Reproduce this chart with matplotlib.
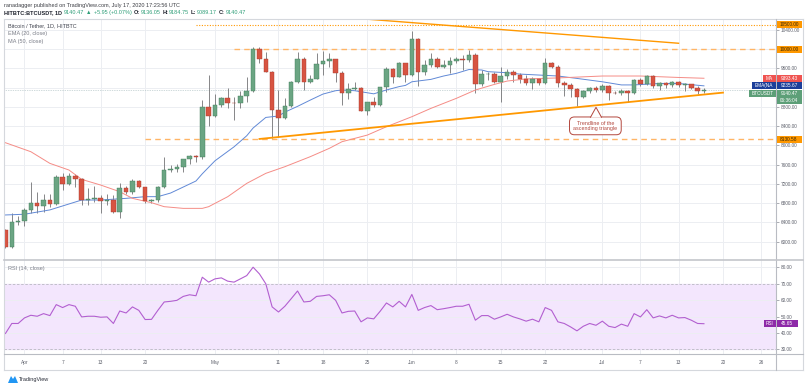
import matplotlib
matplotlib.use("Agg")
import matplotlib.pyplot as plt
import matplotlib.dates as mdates
from matplotlib.patches import Rectangle, Polygon
from matplotlib.lines import Line2D
from matplotlib.transforms import IdentityTransform
import numpy as np
import pandas as pd

plt.rcParams['font.family'] = ['Liberation Sans', 'DejaVu Sans']

# ---------------- data ----------------
start_date = "2020-03-29"
opens = [6240, 5895, 6400, 6430, 6660, 6800, 6740, 6865, 6775, 7340,
         7205, 7370, 7300, 6865, 6885, 6900, 6850, 6870, 6625, 7105,
         7040, 7250, 7130, 6845, 6865, 7140, 7480, 7500, 7550, 7710,
         7780, 7750, 8790, 8615, 8835, 8975, 8885, 8870, 9025, 9135,
         9995, 9790, 9530, 8735, 8560, 8815, 9315, 9790, 9315, 9385,
         9680, 9745, 9785, 9510, 9080, 9170, 9185, 8720, 8895, 8835,
         9205, 9580, 9425, 9700, 9460, 10200, 9515, 9670, 9790, 9620,
         9670, 9750, 9785, 9770, 9880, 9265, 9475, 9490, 9320, 9440,
         9515, 9460, 9375, 9300, 9370, 9285, 9700, 9620, 9285, 9250,
         9160, 9010, 9125, 9195, 9150, 9240, 9095, 9080, 9135, 9080,
         9355, 9265, 9440, 9230, 9300, 9250, 9310, 9250, 9270, 9195,
         9136.05]
highs = [6260, 6600, 6530, 6690, 7230, 7040, 7000, 6980, 7380, 7420,
         7420, 7405, 7315, 7105, 7160, 6970, 6990, 6970, 7210, 7160,
         7295, 7280, 7140, 6885, 7160, 7765, 7590, 7610, 7715, 7800,
         7800, 8940, 9460, 9065, 9010, 9195, 8995, 9135, 9410, 10050,
         10035, 9930, 9550, 9150, 8975, 9335, 9945, 9825, 9460, 9910,
         9960, 9910, 9790, 9550, 9285, 9320, 9215, 8905, 9010, 9215,
         9635, 9600, 9725, 9700, 10375, 10220, 9770, 9910, 9840, 9770,
         9840, 9840, 9875, 9980, 9910, 9565, 9530, 9530, 9635, 9580,
         9565, 9510, 9460, 9425, 9390, 9805, 9725, 9665, 9335, 9285,
         9185, 9150, 9215, 9230, 9275, 9250, 9135, 9160, 9150, 9370,
         9390, 9460, 9455, 9320, 9320, 9340, 9340, 9300, 9270, 9230,
         9184.75]
lows = [5875, 5870, 6345, 6325, 6590, 6600, 6620, 6725, 6755, 7070,
        7175, 7140, 6760, 6760, 6830, 6590, 6760, 6600, 6485, 7000,
        7000, 7105, 6810, 6795, 6830, 7105, 7455, 7440, 7455, 7610,
        7660, 7725, 8400, 8595, 8790, 8770, 8525, 8770, 8905, 9115,
        9715, 9515, 8145, 8180, 8545, 8790, 9285, 9150, 9285, 9370,
        9460, 9635, 9320, 8835, 8955, 9150, 8715, 8630, 8790, 8825,
        9115, 9285, 9410, 9320, 9440, 9230, 9460, 9635, 9600, 9600,
        9495, 9715, 9565, 9735, 9095, 9230, 9355, 9285, 8905, 9375,
        9320, 9285, 9250, 9160, 9250, 9270, 9600, 9215, 9025, 8995,
        8815, 8975, 9095, 9115, 9115, 8940, 9060, 9050, 8905, 9065,
        9240, 9250, 9185, 9150, 9185, 9215, 9215, 9125, 9160, 9065,
        9089.17]
closes = [5895, 6400, 6430, 6660, 6800, 6740, 6865, 6775, 7340, 7205,
          7370, 7300, 6865, 6885, 6900, 6850, 6870, 6625, 7105, 7040,
          7250, 7130, 6845, 6865, 7140, 7480, 7500, 7550, 7710, 7780,
          7750, 8790, 8615, 8835, 8975, 8885, 8870, 9025, 9135, 9995,
          9790, 9530, 8735, 8560, 8815, 9315, 9790, 9315, 9385, 9680,
          9745, 9785, 9510, 9080, 9170, 9185, 8720, 8895, 8835, 9205,
          9580, 9425, 9700, 9460, 10200, 9515, 9670, 9790, 9620, 9670,
          9750, 9785, 9770, 9880, 9265, 9475, 9490, 9320, 9440, 9515,
          9460, 9375, 9300, 9370, 9285, 9700, 9620, 9285, 9250, 9160,
          9010, 9125, 9195, 9150, 9240, 9095, 9080, 9135, 9080, 9355,
          9265, 9440, 9230, 9300, 9250, 9310, 9250, 9270, 9195, 9136,
          9140.47]

ema_dates = ["2020-03-29", "2020-04-01", "2020-04-05", "2020-04-10", "2020-04-13",
             "2020-04-17", "2020-04-20", "2020-04-22", "2020-04-24", "2020-04-28",
             "2020-04-29", "2020-05-01", "2020-05-04", "2020-05-06", "2020-05-07",
             "2020-05-09", "2020-05-11", "2020-05-12", "2020-05-14", "2020-05-16",
             "2020-05-18", "2020-05-20", "2020-05-21", "2020-05-23", "2020-05-26",
             "2020-05-28", "2020-05-30", "2020-05-31", "2020-06-01", "2020-06-04",
             "2020-06-06", "2020-06-08", "2020-06-10", "2020-06-12", "2020-06-13",
             "2020-06-16", "2020-06-18", "2020-06-21", "2020-06-24", "2020-06-27",
             "2020-07-01", "2020-07-04", "2020-07-06", "2020-07-10", "2020-07-13",
             "2020-07-17"]
ema_values = [6555, 6570, 6660, 6865, 6865, 6900, 6935, 6935, 7010, 7260,
              7410, 7680, 7970, 8200, 8360, 8580, 8610, 8690, 8810, 8940,
              9065, 9135, 9150, 9135, 9070, 9150, 9220, 9245, 9320, 9370,
              9440, 9495, 9575, 9565, 9530, 9508, 9480, 9460, 9440, 9390,
              9320, 9255, 9255, 9285, 9285, 9235.67]

ma_dates = ["2020-03-29", "2020-04-02", "2020-04-05", "2020-04-08", "2020-04-10",
            "2020-04-13", "2020-04-16", "2020-04-18", "2020-04-21", "2020-04-23",
            "2020-04-26", "2020-04-29", "2020-04-30", "2020-05-03", "2020-05-06",
            "2020-05-09", "2020-05-12", "2020-05-16", "2020-05-19", "2020-05-21",
            "2020-05-25", "2020-05-28", "2020-06-01", "2020-06-04", "2020-06-08",
            "2020-06-11", "2020-06-14", "2020-06-16", "2020-06-19", "2020-06-24",
            "2020-07-01", "2020-07-07", "2020-07-13", "2020-07-17"]
ma_values = [8055, 7868, 7626, 7488, 7294, 7176, 7038, 6900, 6810, 6727,
             6692, 6692, 6727, 6934, 7211, 7419, 7557, 7765, 7938, 8076,
             8214, 8387, 8595, 8768, 8976, 9149, 9266, 9335, 9380, 9400,
             9440, 9440, 9410, 9393.43]

rsi_values = [39.7, 45.8, 45.8, 49.2, 50.8, 50.2, 51.8, 50.6, 57.3, 55.5,
              57.3, 56.3, 49.8, 50.2, 50.2, 49.6, 49.8, 45.8, 53.4, 52.2,
              55.9, 53.8, 48.2, 48.3, 53.8, 58.9, 59.3, 59.9, 62.3, 63.3,
              62.7, 74.0, 71.0, 73.0, 73.6, 71.6, 71.0, 73.0, 75.0, 80.1,
              76.0, 70.0, 55.9, 52.8, 56.3, 60.9, 65.6, 58.9, 59.3, 62.3,
              62.7, 63.3, 59.9, 52.2, 53.2, 53.4, 46.8, 49.2, 48.6, 53.2,
              58.3, 55.9, 59.3, 55.9, 63.5, 53.8, 55.5, 56.7, 54.2, 54.8,
              55.5, 56.3, 56.3, 57.5, 47.8, 50.6, 50.6, 48.4, 49.8, 51.4,
              49.8, 48.6, 47.2, 48.4, 46.8, 55.5, 53.8, 46.8, 45.8, 43.7,
              41.3, 44.1, 45.8, 44.7, 47.2, 44.1, 43.3, 45.4, 44.1, 51.8,
              49.8, 54.2, 49.2, 50.4, 49.2, 50.8, 49.2, 49.4, 47.8, 45.8,
              45.65]

price_ticks = [6000, 6400, 6800, 7200, 7600, 8000, 8400, 8800, 9200, 9600, 10000, 10400]
hidden_price_ticks = [9200]          # covered by the indicator labels in the reference
rsi_ticks = [30, 40, 50, 60, 70, 80]
date_ticks = ["2020-04-01", "2020-04-07", "2020-04-13", "2020-04-20", "2020-05-01",
              "2020-05-11", "2020-05-18", "2020-05-25", "2020-06-01", "2020-06-08",
              "2020-06-15", "2020-06-22", "2020-07-01", "2020-07-07", "2020-07-13",
              "2020-07-20", "2020-07-26"]
date_labels = ["Apr", "7", "13", "20", "May", "11", "18", "25", "Jun", "8",
               "15", "22", "Jul", "7", "13", "20", "26"]

level_prices = [10500, 10000, 8130.58]
level_starts = ["2020-04-28", "2020-05-04", "2020-04-20"]
desc_dates = ["2020-05-22", "2020-07-13"]
desc_prices = [10650, 10120]
asc_dates = ["2020-05-08", "2020-07-20"]
asc_prices = [8133, 9095]
callout_text = "Trendline of the\nascending triangle"
callout_anchor_date = "2020-06-30"
callout_anchor_price = 8790

header1 = "ranadagger published on TradingView.com, July 17, 2020 17:23:56 UTC"
header2 = [("HITBTC:BTCUSDT, 1D", "dark"), ("9140.47", "g"), ("\u25b2", "g"),
           ("+5.95 (+0.07%)", "g"), ("O:", "dark"), ("9136.05", "g"),
           ("H:", "dark"), ("9184.75", "g"), ("L:", "dark"), ("9089.17", "g"),
           ("C:", "dark"), ("9140.47", "g")]
legend_lines = ["Bitcoin / Tether, 1D, HITBTC", "EMA (20, close)", "MA (50, close)"]

# ---------------- style ----------------
UP, DOWN = "#6ba583", "#d75442"
UP_EDGE, DOWN_EDGE = "#3f7a58", "#a83a2c"
WICK = "#737375"
EMA_C, MA_C = "#6189d6", "#f58c86"
ORANGE = "#ff9800"
GRID = "#eceef2"
AXIS_TXT = "#5d606b"

W, H = 808, 392
fig = plt.figure(figsize=(W / 100, H / 100), dpi=100)
fig.patch.set_facecolor("white")


def FX(px):
    return px / W


def FY(py):
    return 1 - py / H


L_PX, R_PX = 3.5, 776.0
T_MAIN, B_MAIN, B_RSI = 18.5, 260.0, 354.3
ax = fig.add_axes([FX(L_PX), FY(B_MAIN), FX(R_PX - L_PX), (B_MAIN - T_MAIN) / H])
axr = fig.add_axes([FX(L_PX), FY(B_RSI), FX(R_PX - L_PX), (B_RSI - B_MAIN) / H])

dates = pd.date_range(start_date, periods=len(closes))
xs = mdates.date2num(dates)
o = np.array(opens, float)
h = np.array(highs, float)
lo = np.array(lows, float)
c = np.array(closes, float)

PX_PER_DAY = 6.35
x0 = xs[0] - (5.45 - L_PX) / PX_PER_DAY
x1 = xs[0] + (R_PX - 5.45) / PX_PER_DAY
for a in (ax, axr):
    a.set_xlim(x0, x1)
    a.set_facecolor("white")
    for s in a.spines.values():
        s.set_visible(False)
ax.set_ylim(5620, 10634)
axr.set_ylim(27.0, 84.5)

# grid
dt = mdates.date2num(pd.to_datetime(date_ticks))
for a in (ax, axr):
    a.set_xticks(dt)
    for xv in dt:
        a.axvline(xv, color=GRID, lw=0.7, zorder=0)
for pv in price_ticks:
    ax.axhline(pv, color=GRID, lw=0.7, zorder=0)

ax.tick_params(axis="x", length=0, labelbottom=False)
axr.set_xticklabels(date_labels)
axr.tick_params(axis="x", length=0, labelsize=3.4, labelcolor=AXIS_TXT, pad=4.2)

ax.yaxis.tick_right()
ax.set_yticks(price_ticks)
ax.set_yticklabels(["" if p in hidden_price_ticks else f"{p:.2f}" for p in price_ticks])
ax.tick_params(axis="y", length=2, width=0.5, color="#8a8d96", labelsize=3.4,
               labelcolor=AXIS_TXT, pad=1.5)
axr.yaxis.tick_right()
axr.set_yticks(rsi_ticks)
axr.set_yticklabels([f"{v:.2f}" for v in rsi_ticks])
axr.tick_params(axis="y", length=2, width=0.5, color="#8a8d96", labelsize=3.4,
                labelcolor=AXIS_TXT, pad=1.5)

# candles
up = c >= o
ax.vlines(xs, lo, h, color=WICK, lw=0.6, zorder=3)
body_bottom = np.minimum(o, c)
body_h = np.maximum(np.abs(c - o), 12)
ax.bar(xs, body_h, bottom=body_bottom, width=0.72,
       color=np.where(up, UP, DOWN), edgecolor=np.where(up, UP_EDGE, DOWN_EDGE),
       linewidth=0.3, zorder=4)

# moving averages
ax.plot(mdates.date2num(pd.to_datetime(ema_dates)), ema_values, color=EMA_C, lw=0.7, zorder=3.5)
ax.plot(mdates.date2num(pd.to_datetime(ma_dates)), ma_values, color=MA_C, lw=0.7, zorder=3.5)

# current price dotted line
ax.axhline(c[-1], color="#9fb6b8", lw=0.5, ls=(0, (1, 1.5)), zorder=2)

# horizontal levels
lvl_styles = [dict(ls=(0, (1, 1.4)), lw=0.8, color=ORANGE),
              dict(ls=(0, (4, 3)), lw=1.0, color="#ffb566"),
              dict(ls=(0, (4, 3)), lw=1.0, color="#ffb566")]
for pv, sd, st in zip(level_prices, level_starts, lvl_styles):
    xs0 = mdates.date2num(pd.Timestamp(sd))
    ax.plot([xs0, x1], [pv, pv], zorder=2.5, **st)

# trendlines
ax.plot(mdates.date2num(pd.to_datetime(desc_dates)), desc_prices, color=ORANGE, lw=1.0, zorder=5)
ax.plot(mdates.date2num(pd.to_datetime(asc_dates)), asc_prices, color=ORANGE, lw=1.3, zorder=5)

# legend texts
for i, (txt, col) in enumerate(zip(legend_lines, ["#434651", "#7b7e88", "#7b7e88"])):
    fig.text(FX(8), FY([26, 34, 41.7][i]), txt, fontsize=4.0, color=col, va="center", ha="left")
fig.text(FX(8), FY(268.3), "RSI (14, close)", fontsize=4.0, color="#7b7e88", va="center", ha="left")

# RSI pane
axr.axhspan(30, 70, color="#f3e6fd", zorder=0.5)
for v in (80, 60, 50, 40):
    axr.axhline(v, color=GRID, lw=0.7, zorder=0.6)
for v in (70, 30):
    axr.axhline(v, color="#b9b9c2", lw=0.6, ls=(0, (3, 2)), zorder=0.7)
axr.plot(xs, rsi_values, color="#b25fd0", lw=0.8, zorder=3)

# frame lines (figure pixel coordinates)
def fline(xa, ya, xb, yb, col, lw=0.8):
    fig.add_artist(Line2D([FX(xa), FX(xb)], [FY(ya), FY(yb)], color=col, lw=lw,
                          transform=fig.transFigure, zorder=20))

fline(L_PX, T_MAIN, 803, T_MAIN, "#d5d8dd")
fline(L_PX, 370, 803, 370, "#d5d8dd")
fline(L_PX, T_MAIN, L_PX, 370, "#d5d8dd")
fline(803, T_MAIN, 803, 370, "#d5d8dd")
fline(R_PX, T_MAIN, R_PX, 370, "#b9bcc3")
fline(L_PX, B_MAIN, 803, B_MAIN, "#c4c6cb", 1.2)
fline(L_PX, B_RSI, 803, B_RSI, "#b9bcc3", 0.8)

# header
fig.text(FX(4), FY(5.5), header1, fontsize=4.0, color="#3d3f45", va="center", ha="left")
fig.canvas.draw()
rend = fig.canvas.get_renderer()
xcur = 4.0
for txt, kind in header2:
    t = fig.text(FX(xcur), FY(12.7), txt, fontsize=4.0, va="center", ha="left",
                 color="#1e222d" if kind == "dark" else "#2e9e78",
                 fontweight="bold" if kind == "dark" else "normal")
    bb = t.get_window_extent(renderer=rend)
    xcur += bb.width + (0.6 if txt.endswith(":") else 2.0)

# right-side labels
def ypix(a, price):
    return H - a.transData.transform((x0, price))[1]


def box(x0p, x1p, yc, text, fc, tc="white", hgt=7.0, fs=3.4):
    fig.add_artist(Rectangle((FX(x0p), FY(yc + hgt / 2)), FX(x1p - x0p), hgt / H,
                             transform=fig.transFigure, fc=fc, ec="none", zorder=21))
    fig.text(FX((x0p + x1p) / 2), FY(yc), text, fontsize=fs, color=tc, ha="center",
             va="center", zorder=22)

for pv in level_prices:
    box(776.5, 801.5, ypix(ax, pv), f"{pv:.2f}", ORANGE, "#3a2600")

y_ma = ypix(ax, ma_values[-1])
y_ema = max(ypix(ax, ema_values[-1]), y_ma + 7.3)
y_cl = max(ypix(ax, c[-1]), y_ema + 7.3)
box(762.5, 775.5, y_ma, "MA", "#ef5350")
box(776.5, 801.5, y_ma, f"{ma_values[-1]:.2f}", "#ef5350")
box(752.0, 775.5, y_ema, "EMA(NA", "#1c3f9a")
box(776.5, 801.5, y_ema, f"{ema_values[-1]:.2f}", "#1c3f9a")
box(749.0, 775.5, y_cl, "BTCUSDT", "#5d9f78")
box(776.5, 801.5, y_cl, f"{c[-1]:.2f}", "#5d9f78")
box(776.5, 801.5, y_cl + 7.5, "06:36:04", "#5d9f78")
y_rsi = ypix(axr, rsi_values[-1])
box(764.0, 775.5, y_rsi, "RSI", "#8e2aa8")
box(776.5, 798.0, y_rsi, f"{rsi_values[-1]:.2f}", "#8e2aa8")

# callout
cx = mdates.date2num(pd.Timestamp(callout_anchor_date))
ct = ax.text(cx - 0.1, 8405, callout_text, ha="center", va="center", fontsize=3.9,
             color="#b3473d", linespacing=1.05, zorder=8,
             bbox=dict(boxstyle="round,pad=0.7,rounding_size=0.9", fc="white",
                       ec="#b3473d", lw=0.7))
fig.canvas.draw()
bb = ct.get_bbox_patch().get_window_extent(renderer=rend)
apx, apy = ax.transData.transform((cx, callout_anchor_price))
tri = Polygon([[apx - 5.5, bb.y1 - 0.6], [apx, apy], [apx + 5.5, bb.y1 - 0.6]],
              closed=True, fc="white", ec="none", transform=IdentityTransform(), zorder=9)
fig.add_artist(tri)
fig.add_artist(Line2D([apx - 5.5, apx, apx + 5.5], [bb.y1 - 0.3, apy, bb.y1 - 0.3],
                      color="#b3473d", lw=0.7, transform=IdentityTransform(), zorder=10))

# TradingView logo
fig.add_artist(Polygon([[FX(8), FY(383)], [FX(11), FY(376)], [FX(13), FY(379)],
                        [FX(15), FY(376)], [FX(18), FY(383)]], closed=True,
                       fc="#2196f3", ec="none", transform=fig.transFigure))
fig.text(FX(18.5), FY(379.5), "TradingView", fontsize=4.0, color="#2a2e39", va="center", ha="left")

fig.savefig("out.png", dpi=100, facecolor="white")
